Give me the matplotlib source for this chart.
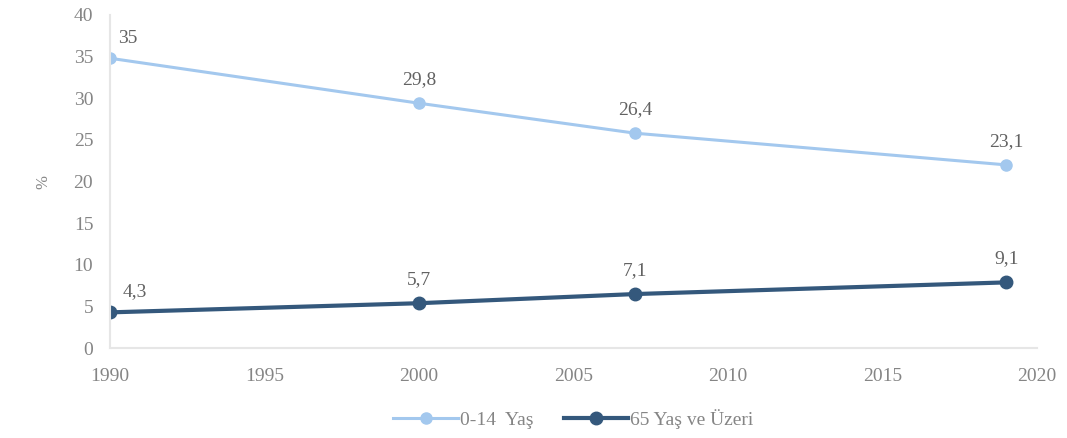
import matplotlib
matplotlib.use("Agg")
import matplotlib.pyplot as plt

# data
years = [1990, 2000, 2007, 2019]
young = [34.8, 29.4, 25.8, 22.0]          # 0-14 Yas, plotted positions
young_labels = ["35", "29,8", "26,4", "23,1"]
old = [4.3, 5.4, 6.5, 7.9]                # 65 Yas ve Uzeri, plotted positions
old_labels = ["4,3", "5,7", "7,1", "9,1"]
series_names = ["0-14  Yaş", "65 Yaş ve Üzeri"]

plt.rcParams['font.family'] = ['Liberation Serif', 'DejaVu Serif']
text_color = '#858585'
label_color = '#626262'
light = '#A3C8EE'
dark = '#34587C'

fig = plt.figure(figsize=(10.67, 4.38), dpi=100)
ax = fig.add_axes([0.103, 0.205, 0.869, 0.761])

ax.plot(years, young, color=light, linewidth=2.2, marker='o', markersize=8, label=series_names[0])
ax.plot(years, old, color=dark, linewidth=3, marker='o', markersize=9, label=series_names[1])

# value labels
for i, (x, y) in enumerate(zip(years, young)):
    if i == 0:
        ax.annotate(young_labels[i], (x, y), xytext=(6, 8), textcoords='offset points',
                    ha='left', va='bottom', fontsize=14, color=label_color)
    else:
        ax.annotate(young_labels[i], (x, y), xytext=(0, 11), textcoords='offset points',
                    ha='center', va='bottom', fontsize=14, color=label_color)
for i, (x, y) in enumerate(zip(years, old)):
    if i == 0:
        ax.annotate(old_labels[i], (x, y), xytext=(9, 9), textcoords='offset points',
                    ha='left', va='bottom', fontsize=14, color=label_color)
    else:
        ax.annotate(old_labels[i], (x, y), xytext=(0, 11), textcoords='offset points',
                    ha='center', va='bottom', fontsize=14, color=label_color)

ax.set_xlim(1990, 2020)
ax.set_ylim(0, 40)
ax.set_xticks(range(1990, 2021, 5))
ax.set_yticks(range(0, 41, 5))
ax.tick_params(axis='both', length=0, labelsize=14, labelcolor=text_color)
ax.tick_params(axis='x', pad=14)
ax.tick_params(axis='y', pad=12)
ax.set_ylabel('%', fontsize=12, color=text_color, labelpad=16)

for side in ['top', 'right']:
    ax.spines[side].set_visible(False)
for side in ['left', 'bottom']:
    ax.spines[side].set_color('#e6e6e6')
    ax.spines[side].set_linewidth(1.5)

ax.legend(loc='upper center', bbox_to_anchor=(0.5, -0.13), ncol=2, frameon=False,
          fontsize=14, labelcolor=text_color, handlelength=3.3, handletextpad=0.1,
          columnspacing=1.6)

fig.savefig('out.png', dpi=100)
